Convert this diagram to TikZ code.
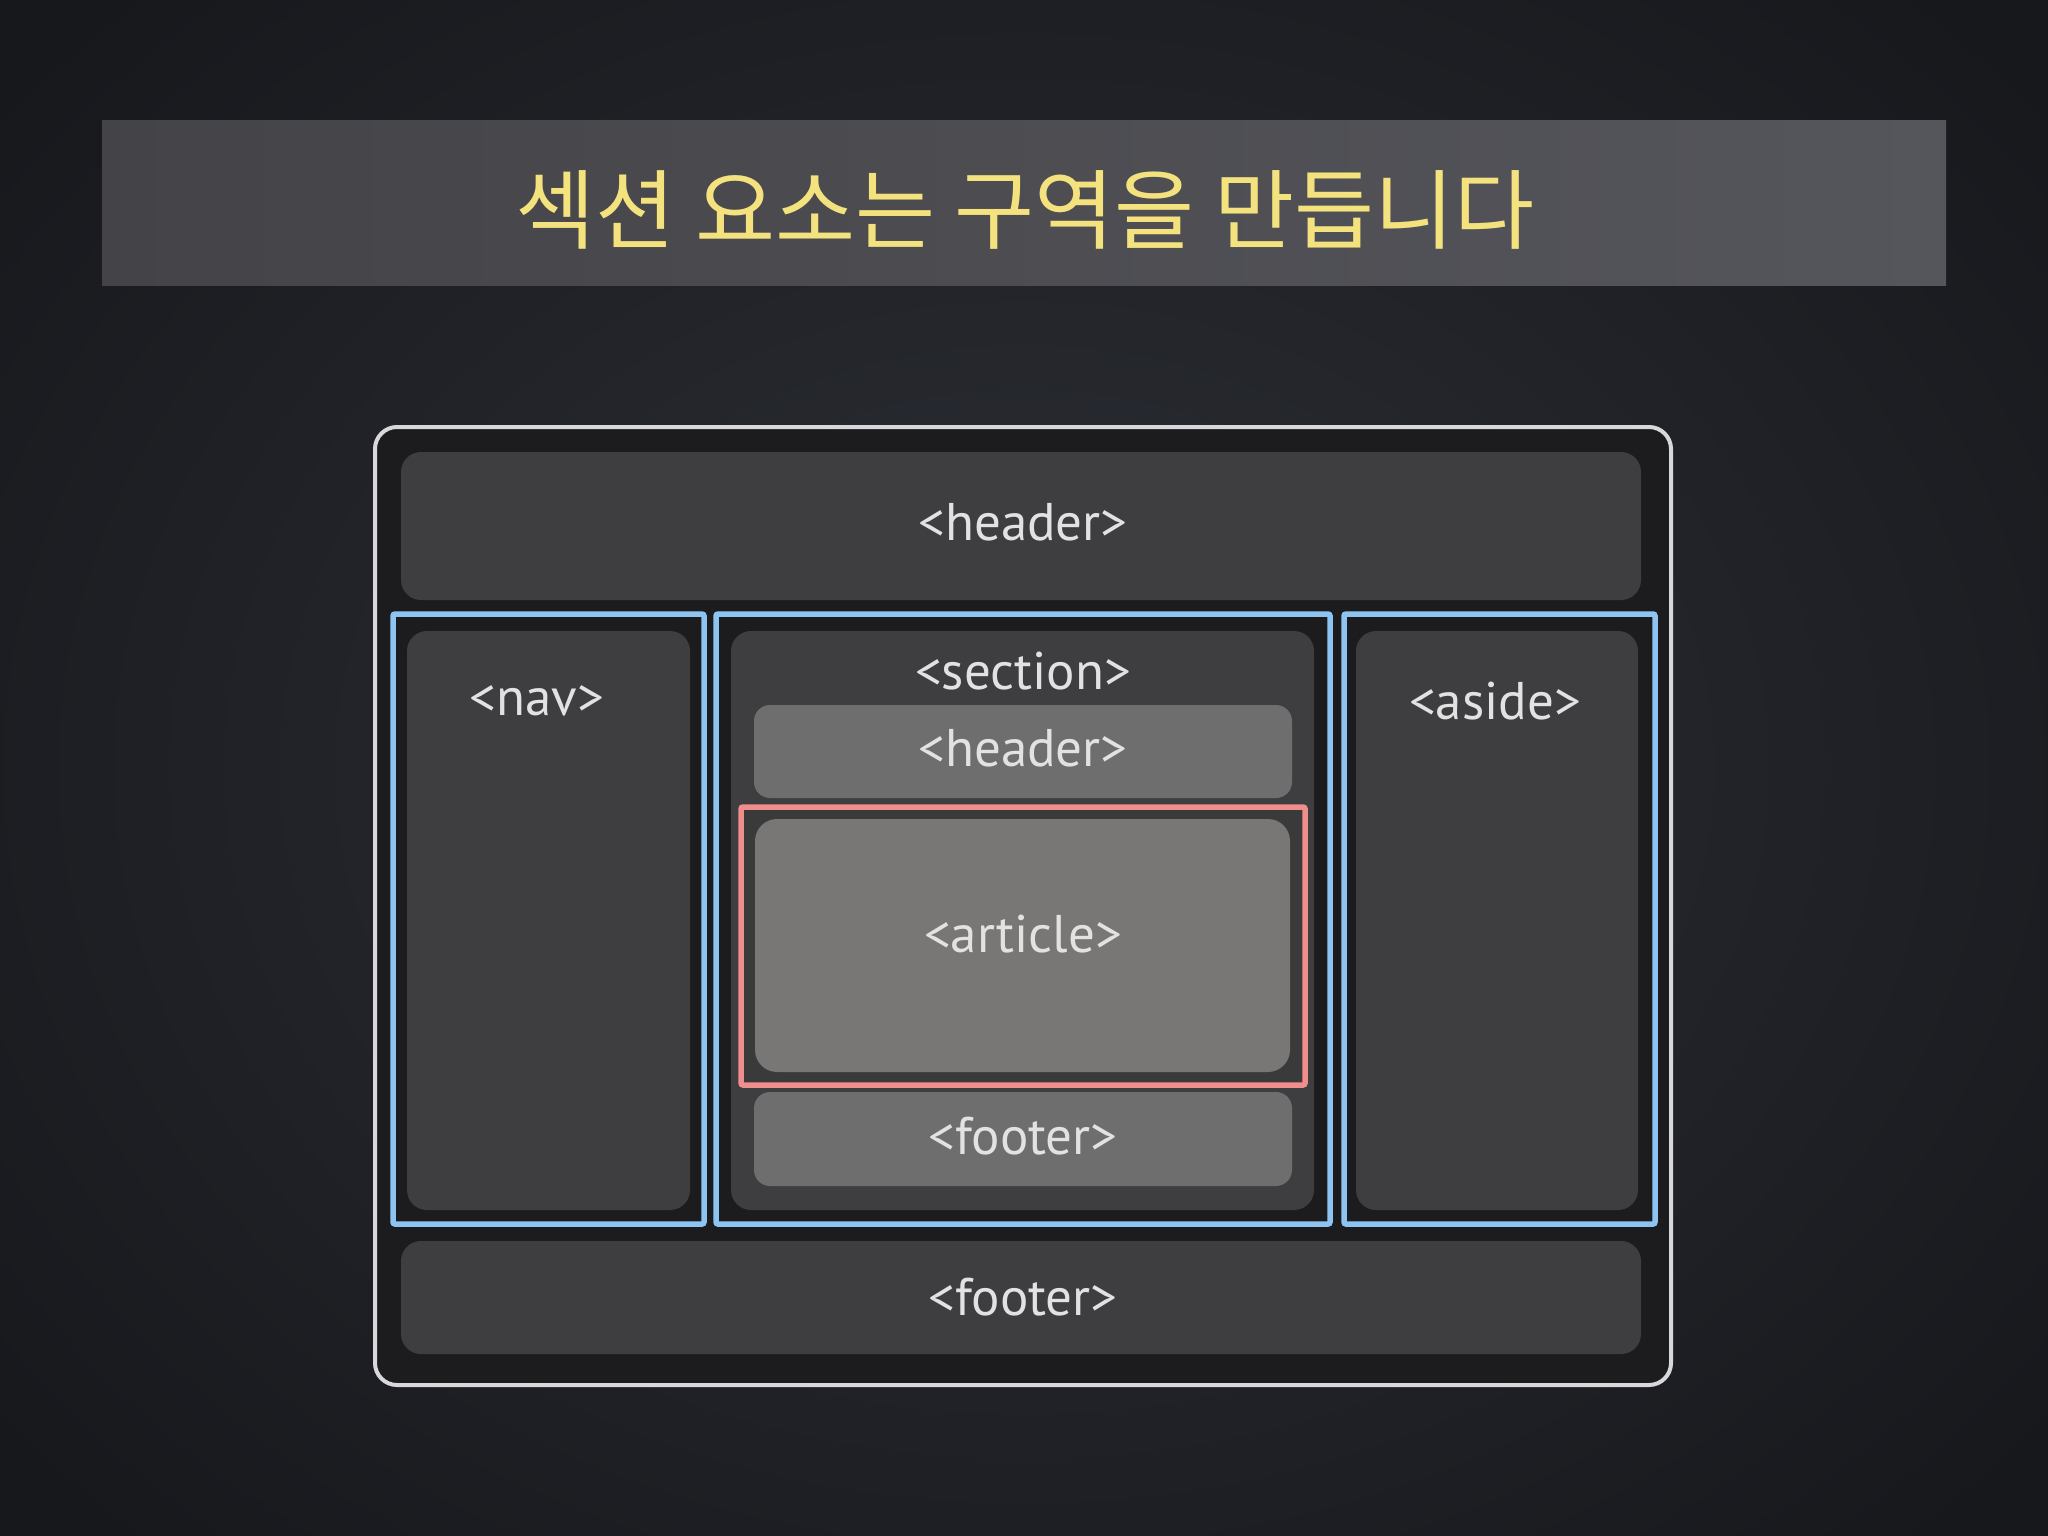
\documentclass[tikz,border=0pt]{standalone}
\usepackage{fontspec}
\setmainfont{PT Sans}
\newfontfamily\krfont{Noto Sans CJK KR}
\definecolor{bgin}{HTML}{2D3037}
\definecolor{bgout}{HTML}{17181C}
\definecolor{bandL}{HTML}{444347}
\definecolor{bandR}{HTML}{55565C}
\definecolor{titlecol}{HTML}{F3E27E}
\definecolor{frameline}{HTML}{D8D8DA}
\definecolor{framefill}{HTML}{1C1C1E}
\definecolor{boxfill}{HTML}{3E3D40}
\definecolor{lightfill}{HTML}{6F6E6F}
\definecolor{artfill}{HTML}{787776}
\definecolor{artgap}{HTML}{3A3A3B}
\definecolor{bluel}{HTML}{8EC4F2}
\definecolor{redl}{HTML}{F08E8E}
\definecolor{labcol}{HTML}{E2E2E2}
\tikzset{
  frame/.style={draw=frameline, line width=4pt, fill=framefill, rounded corners=22pt, inner sep=0pt},
  darkbox/.style={fill=boxfill, rounded corners=20pt, inner sep=0pt},
  lightbox/.style={fill=lightfill, rounded corners=16pt, inner sep=0pt},
  artbox/.style={fill=artfill, rounded corners=22pt, inner sep=0pt},
  bluebox/.style={draw=bluel, line width=5.5pt, fill=framefill, rounded corners=2pt, inner sep=0pt},
  redbox/.style={draw=redl, line width=5.5pt, fill=artgap, rounded corners=2pt, inner sep=0pt},
  lab/.style={text=labcol, font=\fontsize{53}{53}\selectfont, inner sep=0pt},
}
\begin{document}
\begin{tikzpicture}[x=1pt,y=-1pt]
\useasboundingbox (0,0) rectangle (2048,1536);
\shade[inner color=bgin, outer color=bgout] (-300,-300) rectangle (2348,1836);
% title band
\shade[left color=bandL, right color=bandR] (102,121) rectangle (1946,285);
\node[text=titlecol, font=\krfont\fontsize{87}{87}\selectfont, inner sep=0pt] (title) at (1025,210) {섹션 요소는 구역을 만듭니다};
% outer frame
\node[frame, minimum width=1296pt, minimum height=958pt] (outer) at (1023,906) {};
\node[darkbox, minimum width=1240pt, minimum height=148pt] (hdr) at (1021,526) {};
\node[lab] (hdrlab) at (1023,522) {<header>};
% nav
\node[bluebox, minimum width=311pt, minimum height=610pt] (navb) at (548.5,919) {};
\node[darkbox, minimum width=283pt, minimum height=579pt] (nav) at (548.5,920.5) {};
\node[lab] (navlab) at (537,701) {<nav>};
% section
\node[bluebox, minimum width=614pt, minimum height=610pt] (secb) at (1023,919) {};
\node[darkbox, minimum width=583pt, minimum height=579pt] (sec) at (1022.5,920.5) {};
\node[lab] (seclab) at (1023,671) {<section>};
\node[lightbox, minimum width=538pt, minimum height=93pt] (shdr) at (1023,751.5) {};
\node[lab] (shdrlab) at (1023,748) {<header>};
\node[redbox, minimum width=564pt, minimum height=278pt] (artb) at (1023,946) {};
\node[artbox, minimum width=535pt, minimum height=253pt] (art) at (1022.5,945.5) {};
\node[lab] (artlab) at (1023,934) {<article>};
\node[lightbox, minimum width=538pt, minimum height=94pt] (sftr) at (1023,1139) {};
\node[lab] (sftrlab) at (1023,1136) {<footer>};
% aside
\node[bluebox, minimum width=311pt, minimum height=610pt] (asideb) at (1499.5,919) {};
\node[darkbox, minimum width=282pt, minimum height=579pt] (aside) at (1497,920.5) {};
\node[lab] (asidelab) at (1495,701) {<aside>};
% footer
\node[darkbox, minimum width=1240pt, minimum height=113pt] (ftr) at (1021,1297.5) {};
\node[lab] (ftrlab) at (1023,1297) {<footer>};
\end{tikzpicture}
\end{document}
